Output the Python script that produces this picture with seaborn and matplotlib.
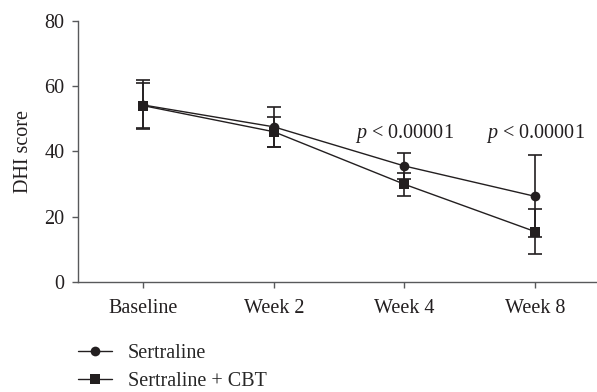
import matplotlib
matplotlib.use('Agg')
import matplotlib.pyplot as plt
import seaborn as sns
import pandas as pd
from matplotlib.lines import Line2D

timepoints = ['Baseline', 'Week 2', 'Week 4', 'Week 8']
sertraline_mean = [54.2, 47.5, 35.5, 26.2]
sertraline_sd = [7.5, 6.1, 4.0, 12.6]
cbt_mean = [54.0, 46.0, 29.9, 15.4]
cbt_sd = [6.8, 4.6, 3.5, 7.0]
p_labels = ['', '', 'p < 0.00001', 'p < 0.00001']

INK = '#231f20'
AXIS = '#58595b'
FS = 14.5

sns.set_style('ticks')
plt.rcParams['font.family'] = ['Liberation Serif', 'DejaVu Serif']
plt.rcParams['mathtext.fontset'] = 'custom'
plt.rcParams['mathtext.it'] = 'Liberation Serif:italic'
plt.rcParams['mathtext.rm'] = 'Liberation Serif'

df = pd.DataFrame({
    'time': timepoints * 2,
    'pos': list(range(4)) * 2,
    'score': sertraline_mean + cbt_mean,
    'group': ['Sertraline'] * 4 + ['Sertraline + CBT'] * 4,
})

fig = plt.figure(figsize=(5.97, 3.92), dpi=100)
ax = fig.add_axes([0.131, 0.281, 0.869, 0.666])

sns.lineplot(data=df, x='pos', y='score', hue='group', style='group',
             markers={'Sertraline': 'o', 'Sertraline + CBT': 's'}, dashes=False,
             palette={'Sertraline': INK, 'Sertraline + CBT': INK},
             markersize=7, linewidth=1.0, markeredgewidth=0, legend=False, ax=ax)

ax.errorbar(range(4), sertraline_mean, yerr=sertraline_sd, fmt='none',
            ecolor=INK, elinewidth=1.2, capsize=5, capthick=1.2)
ax.errorbar(range(4), cbt_mean, yerr=cbt_sd, fmt='none',
            ecolor=INK, elinewidth=1.2, capsize=5, capthick=1.2)

for i, lab in enumerate(p_labels):
    if lab:
        ax.text(i, 42.0, r'$p$ < 0.00001', ha='center', va='bottom',
                fontsize=FS, color=INK)

ax.set_xlim(-0.497, 3.474)
ax.set_ylim(0, 80)
ax.set_yticks([0, 20, 40, 60, 80])
ax.set_xticks(range(4))
ax.set_xticklabels(timepoints)
ax.set_xlabel('')
ax.set_ylabel('DHI score', fontsize=FS, color=INK, labelpad=8)
ax.tick_params(axis='both', labelsize=FS, labelcolor=INK, color=AXIS,
               length=4, width=1.0)
ax.tick_params(axis='y', pad=6)
ax.tick_params(axis='x', pad=8)
for s in ['left', 'bottom']:
    ax.spines[s].set_color(AXIS)
    ax.spines[s].set_linewidth(1.0)
sns.despine(ax=ax)

handles = [
    Line2D([], [], color=INK, lw=1.0, marker='o', markersize=7, markeredgewidth=0),
    Line2D([], [], color=INK, lw=1.0, marker='s', markersize=7, markeredgewidth=0),
]
fig.legend(handles, ['Sertraline', 'Sertraline + CBT'], loc='upper left',
           bbox_to_anchor=(0.131, 0.122), frameon=False, fontsize=FS,
           handlelength=1.7, handletextpad=0.75, labelspacing=0.42,
           borderpad=0, borderaxespad=0)

fig.savefig('out.png', dpi=100, facecolor='white')
